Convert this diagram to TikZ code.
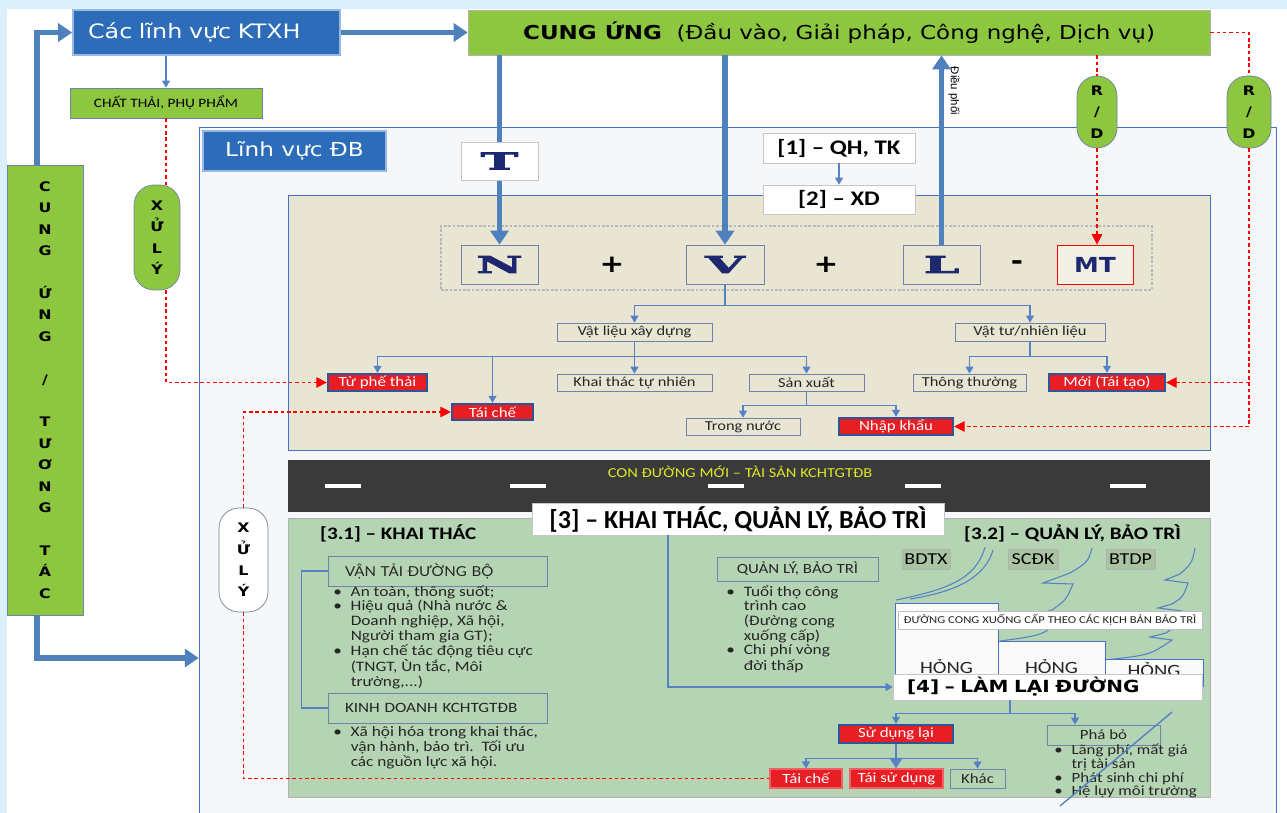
\documentclass[tikz,border=0pt]{standalone}
\usepackage{fontspec}
\setmainfont{Carlito}[FakeStretch=1.2]
\newfontfamily\plainfont{Carlito}
\newfontfamily\latofont{Lato}[FakeStretch=1.1]
\newfontfamily\headfont{DejaVu Sans}[FakeStretch=1.2]
\newfontfamily\slabfont{DejaVu Serif Bold}[FakeStretch=2.2,FakeBold=4]
\newfontfamily\arialfont{Liberation Sans}
\usepackage{tikz}
\usetikzlibrary{arrows,arrows.meta,shapes,positioning}
\usepackage{xcolor}
\definecolor{bgblue}{RGB}{218,240,251}
\definecolor{hdblue}{RGB}{44,108,184}
\definecolor{hdedge}{RGB}{150,185,225}
\definecolor{dbgreen}{RGB}{141,198,63}
\definecolor{arrblue}{RGB}{79,129,189}
\definecolor{linkblue}{RGB}{84,130,197}
\definecolor{edgeblue}{RGB}{68,114,196}
\definecolor{itemline}{RGB}{110,130,170}
\definecolor{beige}{RGB}{233,229,211}
\definecolor{sage}{RGB}{181,212,179}
\definecolor{asphalt}{RGB}{58,58,58}
\definecolor{redfill}{RGB}{232,30,37}
\definecolor{redline}{RGB}{47,85,151}
\definecolor{navy}{RGB}{30,40,110}
\definecolor{roadtext}{RGB}{222,230,40}
\definecolor{textdark}{RGB}{38,38,38}
\definecolor{framebg}{RGB}{246,247,249}
\definecolor{tagfill}{RGB}{168,196,163}
\tikzstyle{fatarrow} = [line width=3pt,-{Triangle[width=0.36cm,length=0.28cm]},color=arrblue]
\tikzstyle{link} = [line width=0.7pt,-{Triangle[width=4.5pt,length=4pt]},color=linkblue]
\tikzstyle{fatlink} = [line width=1.6pt,-{Triangle[width=7pt,length=6pt]},color=linkblue]
\tikzstyle{reddot} = [line width=0.7pt,color=red,dash pattern=on 2pt off 1.6pt]
\tikzstyle{redarrow} = [reddot,-{Triangle[width=6pt,length=6pt]}]
\tikzstyle{headbox} = [draw=hdedge,line width=1pt,fill=hdblue,text=white,inner sep=0pt]
\tikzstyle{greenbox} = [draw=itemline,fill=dbgreen,inner sep=0pt,text=black]
\tikzstyle{pill} = [draw=itemline,fill=dbgreen,rounded corners=0.4cm,inner sep=0pt,align=center,font=\headfont\bfseries\fontsize{7.5}{12.2}\selectfont]
\tikzstyle{itembox} = [draw=itemline,inner sep=0pt,text=textdark,font=\fontsize{7.8}{9}\selectfont]
\tikzstyle{redbox} = [draw=redline,line width=1.3pt,fill=redfill,text=white,inner sep=0pt,font=\fontsize{8}{9}\selectfont]
\tikzstyle{letterbox} = [draw=itemline,inner sep=0pt,minimum width=1.54cm,minimum height=0.78cm,text=navy,font=\slabfont\fontsize{13.2}{14}\selectfont]
\tikzstyle{stepbox} = [draw=gray!45,fill=white,inner sep=0pt,font=\bfseries\fontsize{11.8}{13}\selectfont]
\tikzstyle{bullets} = [inner sep=0pt,anchor=north west,text=textdark,font=\fontsize{8.2}{8.1}\selectfont]
\tikzstyle{tag} = [draw=gray!60,fill=tagfill,inner sep=0pt,minimum height=0.4cm,font=\fontsize{9.5}{11}\selectfont]
\tikzstyle{hong} = [draw=edgeblue,fill=white!96!gray,inner sep=0pt]

\begin{document}
\begin{tikzpicture}[x=0.02cm, y=-0.02cm]
\useasboundingbox (0,0) rectangle (1287,813);
% Background
\fill[bgblue] (0,0) rectangle (1287,813);
\fill[white] (7,9) rectangle (1287,813);

% Road sector frame
\node[draw=edgeblue, fill=framebg, minimum width=21.54cm, minimum height=13.72cm, inner sep=0pt] (dbarea) at (737.5,470) {};
\node[headbox, minimum width=3.66cm, minimum height=0.8cm, font=\headfont\fontsize{11}{13}\selectfont] (dbtitle) at (294.5,151) {Lĩnh vực ĐB};
\node[draw=edgeblue, fill=beige, minimum width=18.44cm, minimum height=5.1cm, inner sep=0pt] (xdarea) at (749,322.5) {};
\node[fill=asphalt, minimum width=18.44cm, minimum height=1.04cm, inner sep=0pt] (road) at (749,486) {};
\node[text=roadtext, font=\fontsize{7.8}{9}\selectfont] (roadlabel) at (740,472) {CON ĐƯỜNG MỚI – TÀI SẢN KCHTGTĐB};
\foreach \x in {325,510,708,905,1110}
  \draw[white, line width=1.8pt] (\x,486) -- ++(36,0);
\node[draw=gray!60, fill=sage, minimum width=18.44cm, minimum height=5.58cm, inner sep=0pt] (ktarea) at (749,657.5) {};

% Top row
\node[headbox, minimum width=5.34cm, minimum height=0.9cm, text width=4.74cm, align=left, font=\headfont\fontsize{11.3}{13}\selectfont] (ktxh) at (206.5,32.5) {Các lĩnh vực KTXH};
\node[draw=gray!60, fill=dbgreen, minimum width=14.84cm, minimum height=0.9cm, inner sep=0pt, font=\headfont\fontsize{10.9}{12}\selectfont] (cung) at (839,32.5) {\textbf{CUNG ỨNG}\ \ (Đầu vào, Giải pháp, Công nghệ, Dịch vụ)};
\node[greenbox, minimum width=3.84cm, minimum height=0.6cm, font=\fontsize{7.3}{9}\selectfont] (chat) at (166,103) {CHẤT THẢI, PHỤ PHẨM};
\node[greenbox, minimum width=1.52cm, minimum height=9cm, align=center, font=\headfont\bfseries\fontsize{7.5}{12.2}\selectfont] (cungtt) at (45,390) {C\\U\\N\\G\\[12.2pt]Ứ\\N\\G\\[12.2pt]/\\[12.2pt]T\\Ư\\Ơ\\N\\G\\[12.2pt]T\\Á\\C};

\draw[fatarrow] ([xshift=-0.16cm]cungtt.north) |- (ktxh.west);
\draw[fatarrow] ([xshift=-0.16cm]cungtt.south) |- (dbarea.west |- 0,658);
\draw[fatarrow] (ktxh.east) -- (cung.west);
\draw[link] (chat.north |- ktxh.south) -- (chat.north);

% N + V + L - MT
\node[draw=gray!55, dash pattern=on 1.5pt off 1pt, line width=0.8pt, minimum width=14.22cm, minimum height=1.28cm, inner sep=0pt] (group) at (796.5,258) {};
\node[letterbox] (N) at (499.5,264.5) {N};
\node[letterbox, minimum width=1.56cm] (V) at (725,264.5) {V};
\node[letterbox] (L) at (941.5,264.5) {L};
\node[draw=red, fill=beige!60!white, inner sep=0pt, minimum width=1.52cm, minimum height=0.78cm, text=navy, font=\headfont\bfseries\fontsize{11.8}{12}\selectfont] (MT) at (1095,264.5) {MT};
\node[font=\headfont\bfseries\fontsize{14}{14}\selectfont] (plus1) at (612,265) {+};
\node[font=\headfont\bfseries\fontsize{14}{14}\selectfont] (plus2) at (826,265) {+};
\node[font=\headfont\bfseries\fontsize{14}{14}\selectfont] (minus) at (1017,265) {-};

\draw[fatarrow] (cung.south -| N.north) -- (N.north);
\draw[fatarrow] (cung.south -| V.north) -- (V.north);
\draw[fatarrow] (L.north) -- (L.north |- cung.south);
\node[rotate=-90, font=\arialfont\fontsize{6.5}{8}\selectfont] (dieuphoi) at (954,91) {Điều phối};

\node[stepbox, minimum width=1.54cm, minimum height=0.76cm, text=navy, font=\slabfont\fontsize{13.2}{14}\selectfont] (T) at (499.5,161) {T};
\node[stepbox, minimum width=3.04cm, minimum height=0.6cm] (qh) at (839,148) {[1] – QH, TK};
\node[stepbox, minimum width=3.04cm, minimum height=0.58cm] (xd) at (839,199.5) {[2] – XD};
\draw[link] (qh) -- (xd);

% Inputs tree
\node[itembox, minimum width=3.1cm, minimum height=0.36cm] (vlxd) at (634.5,332) {Vật liệu xây dựng};
\node[itembox, minimum width=3.0cm, minimum height=0.36cm] (vtnl) at (1030,332) {Vật tư/nhiên liệu};
\node[redbox, minimum width=1.98cm, minimum height=0.34cm] (tpt) at (377.5,382.5) {Từ phế thải};
\node[redbox, minimum width=1.62cm, minimum height=0.32cm] (tc1) at (492.5,412) {Tái chế};
\node[itembox, minimum width=3.1cm, minimum height=0.34cm] (kttn) at (634.5,382.5) {Khai thác tự nhiên};
\node[itembox, minimum width=2.3cm, minimum height=0.34cm] (sx) at (806.5,382.5) {Sản xuất};
\node[itembox, minimum width=2.26cm, minimum height=0.34cm] (tt) at (969.5,382.5) {Thông thường};
\node[redbox, minimum width=2.32cm, minimum height=0.34cm] (moi) at (1107,382.5) {Mới (Tái tạo)};
\node[itembox, minimum width=2.28cm, minimum height=0.34cm] (tn) at (743,426.5) {Trong nước};
\node[redbox, minimum width=2.28cm, minimum height=0.34cm] (nk) at (896,426.5) {Nhập khẩu};

\draw[link] (V.south) -- ++(0,21) coordinate (vfork) -| (vlxd.north);
\draw[link] (vfork) -| (vtnl.north);
\draw[link] (vlxd.south) -- ++(0,15) coordinate (vlfork) -| (tpt.north);
\draw[link] (vlfork) -| (tc1.north);
\draw[link] (vlfork) -- (kttn.north);
\draw[link] (vlfork) -| (sx.north);
\draw[link] (sx.south) -- ++(0,14) coordinate (sxfork) -| (tn.north);
\draw[link] (sxfork) -| (nk.north);
\draw[link] (vtnl.south) -- ++(0,15) coordinate (vtfork) -| (tt.north);
\draw[link] (vtfork) -| (moi.north);

% R/D and waste treatment
\node[pill, minimum width=0.8cm, minimum height=1.44cm] (rd1) at (1097,112) {R\\/\\D};
\node[pill, minimum width=0.88cm, minimum height=1.44cm] (rd2) at (1249,112) {R\\/\\D};
\node[pill, minimum width=0.92cm, minimum height=2.1cm] (xl1) at (157,237.5) {X\\Ử\\L\\Ý};
\node[pill, fill=white, minimum width=0.98cm, minimum height=2.08cm] (xl2) at (243.5,560) {X\\Ử\\L\\Ý};

\draw[reddot] (rd1.north |- cung.south) -- (rd1.north);
\draw[redarrow] (rd1.south) -- (rd1.south |- MT.north);
\draw[reddot] (cung.east) -| (rd2.north);
\draw[redarrow] (rd2.south) |- (moi.east);
\draw[redarrow] (rd2.south) |- (nk.east);
\draw[reddot] (chat.south) -- (chat.south |- xl1.north);
\draw[redarrow] (chat.south |- xl1.south) |- (tpt.west);
\draw[redarrow] (xl2.north) |- (tc1.west);

% [3] operation
\node[anchor=west, font=\bfseries\fontsize{10}{12}\selectfont] (t31) at (314,533) {[3.1] – KHAI THÁC};
\node[anchor=west, font=\bfseries\fontsize{10}{12}\selectfont] (t32) at (958,533) {[3.2] – QUẢN LÝ, BẢO TRÌ};
\node[itembox, minimum width=4.38cm, minimum height=0.6cm, text width=3.7cm, align=left, font=\latofont\fontsize{7.8}{9}\selectfont] (vt) at (437.5,571) {VẬN TẢI ĐƯỜNG BỘ};
\node[itembox, minimum width=4.38cm, minimum height=0.6cm, text width=3.7cm, align=left, font=\fontsize{8.1}{9}\selectfont] (kd) at (437.5,708) {KINH DOANH KCHTGTĐB};
\draw[linkblue, line width=0.7pt] (vt.west) -- ++(-26,0) |- (kd.west);
\node[bullets] (vtlist) at (333,585) {\begin{tabular}{@{}l@{\hspace{5pt}}l@{}}
\textbullet & An toàn, thông suốt;\\
\textbullet & Hiệu quả (Nhà nước \&\\
 & Doanh nghiệp, Xã hội,\\
 & Người tham gia GT);\\
\textbullet & Hạn chế tác động tiêu cực\\
 & (TNGT, Ùn tắc, Môi\\
 & trường,...)
\end{tabular}};
\node[bullets] (kdlist) at (333,726) {\begin{tabular}{@{}l@{\hspace{5pt}}l@{}}
\textbullet & Xã hội hóa trong khai thác,\\
 & vận hành, bảo trì.\ \ Tối ưu\\
 & các nguồn lực xã hội.
\end{tabular}};
\node[itembox, minimum width=3.22cm, minimum height=0.48cm, font=\fontsize{8}{9}\selectfont] (qlbt) at (797.5,569) {QUẢN LÝ, BẢO TRÌ};
\node[bullets] (qllist) at (726,585) {\begin{tabular}{@{}l@{\hspace{5pt}}l@{}}
\textbullet & Tuổi thọ công\\
 & trình cao\\
 & (Đường cong\\
 & xuống cấp)\\
\textbullet & Chi phí vòng\\
 & đời thấp
\end{tabular}};

% Deterioration curves
\node[tag, minimum width=0.96cm] (bdtx) at (926,559) {BDTX};
\node[tag, minimum width=1.0cm] (scdk) at (1033,559) {SCĐK};
\node[tag, minimum width=0.98cm] (btdp) at (1130.5,559) {BTDP};
\draw[linkblue, line width=0.6pt] (985,547) .. controls (976,580) and (945,590) .. (896,600);
\draw[linkblue, line width=0.6pt] (993,550) .. controls (985,578) and (955,592) .. (910,599);
\draw[linkblue, line width=0.6pt] (1092,548) .. controls (1088,562) .. (1070,573) -- (1043,583) -- (1073,584) .. controls (1066,600) .. (1052,610) -- (1040,614) -- (1062,616) .. controls (1045,635) .. (1000,641);
\draw[linkblue, line width=0.6pt] (1195,548) .. controls (1192,563) .. (1180,574) -- (1165,580) -- (1188,583) .. controls (1183,597) .. (1172,604) -- (1158,608) -- (1182,611) .. controls (1177,625) .. (1166,633) -- (1150,637) -- (1172,640) .. controls (1150,655) .. (1105,660);
\node[hong, minimum width=2.06cm, minimum height=1.66cm] (h1) at (946.5,644.5) {};
\node[hong, minimum width=2.14cm, minimum height=0.9cm] (h2) at (1051.5,663.5) {};
\node[hong, minimum width=1.96cm, minimum height=0.54cm] (h3) at (1154,672.5) {};
\node[text=textdark, font=\fontsize{9.8}{11}\selectfont] (h1t) at (946.5,666) {HỎNG};
\node[text=textdark, font=\fontsize{9.8}{11}\selectfont] (h2t) at (1051.5,666) {HỎNG};
\node[text=textdark, font=\fontsize{9.8}{11}\selectfont] (h3t) at (1154,669) {HỎNG};
\node[draw=gray!50, fill=white, minimum width=6.08cm, minimum height=0.36cm, inner sep=0pt, text=textdark, font=\fontsize{6}{7}\selectfont] (dcurve) at (1050,620) {ĐƯỜNG CONG XUỐNG CẤP THEO CÁC KỊCH BẢN BẢO TRÌ};

% [3] and [4]
\node[stepbox, minimum width=8.24cm, minimum height=0.64cm, font=\plainfont\bfseries\fontsize{14.8}{16}\selectfont] (k3) at (738,519) {[3] – KHAI THÁC, QUẢN LÝ, BẢO TRÌ};
\node[stepbox, minimum width=6.18cm, minimum height=0.52cm, text width=5.62cm, align=left, font=\headfont\bfseries\fontsize{9.5}{11}\selectfont] (k4) at (1047.5,687) {[4] – LÀM LẠI ĐƯỜNG};
\draw[link] (k3.south -| 668,0) |- (k4.west);

% Rebuilding
\node[redbox, minimum width=2.28cm, minimum height=0.36cm] (sdl) at (896,734) {Sử dụng lại};
\node[itembox, minimum width=2.26cm, minimum height=0.4cm, font=\fontsize{8}{9}\selectfont] (pb) at (1103.5,735) {Phá bỏ};
\node[bullets, font=\fontsize{8}{7.4}\selectfont] (pblist) at (1054,744) {\begin{tabular}{@{}l@{\hspace{5pt}}l@{}}
\textbullet & Lãng phí, mất giá\\
 & trị tài sản\\
\textbullet & Phát sinh chi phí\\
\textbullet & Hệ lụy môi trường
\end{tabular}};
\draw[linkblue, line width=0.8pt] (1172,712) -- (1060,806);
\node[redbox, draw=redfill!70!white, line width=0.6pt, minimum width=1.44cm, minimum height=0.38cm] (tc2) at (806,778.5) {Tái chế};
\node[redbox, draw=redfill!70!white, line width=0.6pt, minimum width=1.86cm, minimum height=0.38cm] (tsd) at (896.5,778.5) {Tái sử dụng};
\node[itembox, minimum width=1.1cm, minimum height=0.38cm, font=\fontsize{8}{9}\selectfont] (khac) at (977.5,778.5) {Khác};

\draw[link] (k4.south -| 1010,0) -- ++(0,13) coordinate (k4fork) -| (sdl.north);
\draw[link] (k4fork) -| (pb.north -| 1075,0);
\draw[link] (sdl.south) -- ++(0,14) coordinate (sdlfork) -| (tc2.north);
\draw[link] (sdlfork) -| (khac.north);
\draw[fatlink] (sdl.south) -- (sdl.south |- tsd.north);
\draw[reddot] (xl2.south) |- (tc2.west);
\end{tikzpicture}
\end{document}
